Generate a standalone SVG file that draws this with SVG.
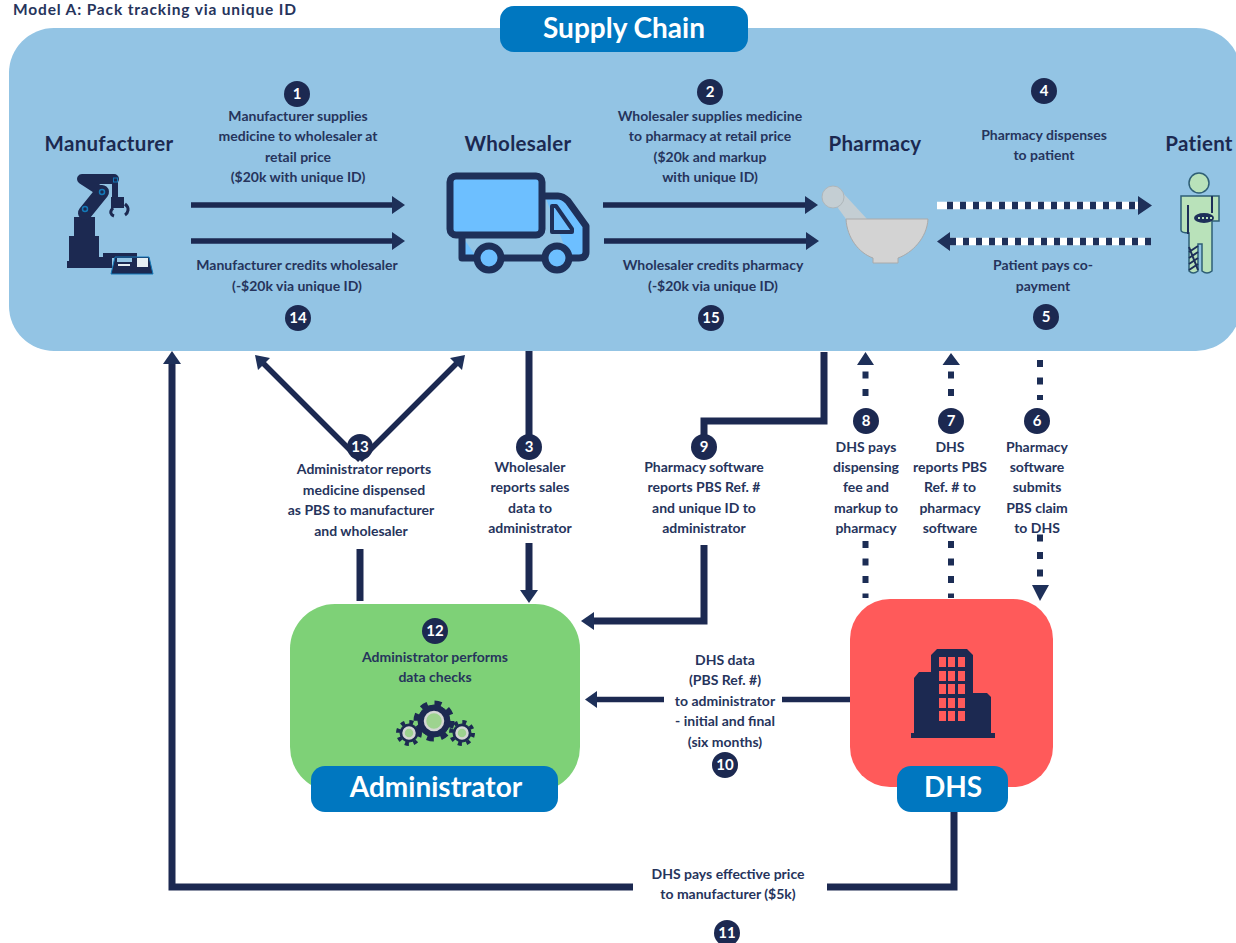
<svg xmlns="http://www.w3.org/2000/svg" width="1236" height="943" viewBox="0 0 1236 943">
<style>
text{font-family:"Lato","Open Sans","Liberation Sans",sans-serif;font-weight:700;text-anchor:middle;fill:#26345c}
.b{font-size:14px}
.h{font-size:20.500px;fill:#1c2951;letter-spacing:.3px}
.t{font-size:28px;fill:#fff}
.n{font-size:15px;fill:#fff}
.c{fill:#1c2951}
.l{fill:none;stroke:#1c2951;stroke-width:5.500}
.w{fill:none;stroke:#1c2951;stroke-width:7}
.d{fill:none;stroke:#1c2d55;stroke-width:6;stroke-dasharray:7 10.500}
.f{fill:#1e3059}
.lab{fill:#0077c0}
</style>
<defs>
<g id="num"><circle r="13" class="c"/></g>
</defs>
<rect width="1236" height="943" fill="#fff"/>
<text x="13" y="15" style="text-anchor:start;font-size:15.500px;letter-spacing:.85px">Model A: Pack tracking via unique ID</text>
<g id="supply-chain">
<rect x="9" y="28" width="1232" height="323" rx="45" fill="#93c4e4"/>
<rect x="500" y="6" width="248" height="46" rx="14" class="lab"/>
<text x="624" y="38" class="t">Supply Chain</text>
</g>
<g id="connectors">
<path class="l" d="M191 205H394M191 241H394M603 205H807M604 241H808"/>
<path class="f" d="M392 196L405 205L392 214ZM392 232L405 241L392 250ZM805 196L818 205L805 214ZM806 232L819 241L806 250Z"/>
<path d="M937 205.500H1141M947 241.500H1151" fill="none" stroke="#fff" stroke-width="7.500"/>
<path d="M947 205.500H1141M1151 241.500H947" fill="none" stroke="#1e3059" stroke-width="7.500" stroke-dasharray="6 7"/>
<path class="f" d="M1138 196L1152 205.500L1138 215ZM950 232L937 241.500L950 251Z"/>
<path class="w" d="M529 351V447M529 543V592"/>
<path class="f" d="M520 590H538L529 603Z"/>
<path class="l" d="M360 460L262 362M360 460L458 362"/>
<path class="f" d="M255 355L270 358L258 370ZM465 355L450 358L462 370Z"/>
<path class="w" d="M360 549V601"/>
<path class="w" d="M824 352V421H704V447"/>
<path class="w" d="M704 545V621H592"/>
<path class="f" d="M594 612L581 621L594 630Z"/>
<path class="d" d="M865.500 396V362"/>
<path class="d" d="M951 396V362"/>
<path class="f" d="M857 365H874L865.500 352ZM942.500 365H960L951 353Z"/>
<path class="d" d="M865.500 541V598M951 541V598"/>
<path class="d" d="M1040 360V400"/>
<path class="d" d="M1040 534.500V585"/>
<path class="f" d="M1032 585H1049L1040 601Z"/>
<path class="l" d="M850 699.500H782M664 699.500H595"/>
<path class="f" d="M597 691L585 699.500L597 708Z"/>
<path class="w" d="M954 812V887H827M633 887H172V362"/>
<path class="f" d="M163 364H181L172 351Z"/>
</g>
<g id="manufacturer">
<text x="109" y="151" class="h">Manufacturer</text>
<path class="c" d="M67 268V261H69V236H74V217H95V236H99V257H103V253H137V258H112V268Z"/>
<path fill="none" stroke="#1c2951" stroke-width="14" stroke-linecap="round" d="M85 213L102 192"/>
<path fill="none" stroke="#1c2951" stroke-width="10" stroke-linecap="round" stroke-linejoin="round" d="M102 192L82 179H114"/>
<path fill="none" stroke="#1c2951" stroke-width="6" d="M115 177V198"/>
<path fill="none" stroke="#1c2951" stroke-width="3" d="M113 208C109 212 111 215 114 216M125 204C130 208 128 213 125 215"/>
<rect x="111" y="197" width="13" height="11" class="c"/>
<circle cx="85" cy="209" r="2.500" fill="none" stroke="#1479b8" stroke-width="1.500"/>
<circle cx="102" cy="192" r="2.500" fill="none" stroke="#1479b8" stroke-width="1.500"/>
<rect x="113.500" y="178" width="4" height="4" fill="none" stroke="#1479b8"/>
<path d="M111 274L115 257H149L153 274Z" fill="#1c2951" stroke="#1479b8"/>
<rect x="137" y="258" width="11" height="9" fill="#e6eef2"/>
<rect x="117" y="258" width="15" height="4" fill="#93c4e4"/>
<rect x="118" y="264" width="12" height="2" fill="#e6eef2"/>
</g>
<g id="wholesaler">
<text x="518" y="151" class="h">Wholesaler</text>
<path d="M462 236V258H477M501 258H545M569 258H579Q586 258 586 252V226L568 201Q563 196 558 196H545" fill="#6dbfff" stroke="#1e3059" stroke-width="7" stroke-linejoin="round"/>
<rect x="450" y="176" width="92" height="59" rx="6" fill="#6dbfff" stroke="#1e3059" stroke-width="7"/>
<path d="M552 206H556L572 229V232H552Z" fill="#6dbfff" stroke="#1e3059" stroke-width="4" stroke-linejoin="round"/>
<circle cx="489" cy="258" r="12" fill="#6dbfff" stroke="#1e3059" stroke-width="7"/>
<circle cx="557" cy="258" r="12" fill="#6dbfff" stroke="#1e3059" stroke-width="7"/>
</g>
<g id="pharmacy">
<text x="875" y="151" class="h">Pharmacy</text>
<path d="M838 208L843 193L867 219H846Z" fill="#c4ced3"/>
<circle cx="833" cy="197" r="11" fill="#c4ced3" stroke="#aeb6ba"/>
<path d="M846 219H928C927 238 912 253 898 258V263H873V258C859 253 847 238 846 219Z" fill="#d3d3d3" stroke="#aaa"/>
</g>
<g id="patient">
<text x="1199" y="151" class="h">Patient</text>
<circle cx="1199" cy="183" r="10" fill="#b9e2ba" stroke="#2f5f75" stroke-width="1.500"/>
<path d="M1181 196H1219V221H1212V241V271Q1207 275 1202 271V244H1198V271Q1193 275 1189 271V233Q1181 233 1181 230Z" fill="#b9e2ba" stroke="#2f5f75" stroke-width="1.500"/>
<path d="M1188 205V234M1212 196V213" fill="none" stroke="#1e3059" stroke-width="2"/>
<ellipse cx="1204" cy="218" rx="10" ry="5" fill="#1e3059"/>
<path d="M1198 218h2M1202 218h2M1206 218h2M1210 218h2" stroke="#b9e2ba" stroke-width="2" fill="none"/>
<path d="M1189 252L1198 246M1189 258L1198 252M1189 264L1198 258M1189 270L1198 264M1189 247L1198 270" stroke="#1e3059" stroke-width="2" fill="none"/>
</g>
<g id="administrator">
<rect x="290" y="604" width="290" height="188" rx="45" fill="#7ed177"/>
<text x="435" y="662" class="b">Administrator performs</text>
<text x="435" y="682" class="b">data checks</text>
<g fill="#1c2951" stroke="#1c2951">
<circle cx="434" cy="721" r="16"/><circle cx="434" cy="721" r="18" fill="none" stroke-width="5" stroke-dasharray="7 7.130"/>
<circle cx="409" cy="733" r="9"/><circle cx="409" cy="733" r="11" fill="none" stroke-width="4" stroke-dasharray="4 4.640"/>
<circle cx="462" cy="733" r="9"/><circle cx="462" cy="733" r="11" fill="none" stroke-width="4" stroke-dasharray="4 4.640"/>
</g>
<g fill="#9dd38f" stroke="#d3d7d3" stroke-width="2.500">
<circle cx="434" cy="721" r="9"/><circle cx="409" cy="733" r="5.500"/><circle cx="462" cy="733" r="5.500"/>
</g>
<rect x="311" y="766" width="247" height="46" rx="14" class="lab"/>
<text x="436" y="797" class="t">Administrator</text>
</g>
<g id="dhs">
<rect x="850" y="599" width="203" height="188" rx="40" fill="#ff5a5a"/>
<path class="c" d="M931 733V655L937 649H967L973 655V693H987L991 697V733H995V738H911V733H914V678L919 672H931Z"/>
<g fill="#ff5a5a"><rect x="939" y="657" width="7" height="10"/><rect x="948" y="657" width="7" height="10"/><rect x="958" y="657" width="7" height="10"/><rect x="939" y="671" width="7" height="10"/><rect x="948" y="671" width="7" height="10"/><rect x="958" y="671" width="7" height="10"/><rect x="939" y="684" width="7" height="10"/><rect x="948" y="684" width="7" height="10"/><rect x="958" y="684" width="7" height="10"/><rect x="939" y="698" width="7" height="10"/><rect x="948" y="698" width="7" height="10"/><rect x="958" y="698" width="7" height="10"/><rect x="939" y="711" width="7" height="10"/><rect x="948" y="711" width="7" height="10"/><rect x="958" y="711" width="7" height="10"/></g>
<rect x="897" y="766" width="111" height="46" rx="14" class="lab"/>
<text x="953" y="797" class="t">DHS</text>
</g>
<g id="labels">
<text x="298" y="121" class="b">Manufacturer supplies</text><text x="298" y="141" class="b">medicine to wholesaler at</text><text x="298" y="162" class="b">retail price</text><text x="298" y="182" class="b">($20k with unique ID)</text>
<text x="297" y="270" class="b">Manufacturer credits wholesaler</text><text x="297" y="291" class="b">(-$20k via unique ID)</text>
<text x="710" y="121" class="b">Wholesaler supplies medicine</text><text x="710" y="141" class="b">to pharmacy at retail price</text><text x="710" y="162" class="b">($20k and markup</text><text x="710" y="182" class="b">with unique ID)</text>
<text x="713" y="270" class="b">Wholesaler credits pharmacy</text><text x="713" y="291" class="b">(-$20k via unique ID)</text>
<text x="1044" y="140" class="b">Pharmacy dispenses</text><text x="1044" y="160" class="b">to patient</text>
<text x="1043" y="270" class="b">Patient pays co-</text><text x="1043" y="291" class="b">payment</text>
<text x="364" y="474" class="b">Administrator reports</text><text x="364" y="495" class="b">medicine dispensed</text><text x="361" y="515" class="b">as PBS to manufacturer</text><text x="361" y="536" class="b">and wholesaler</text>
<text x="530" y="472" class="b">Wholesaler</text><text x="530" y="492" class="b">reports sales</text><text x="530" y="513" class="b">data to</text><text x="530" y="533" class="b">administrator</text>
<text x="704" y="472" class="b">Pharmacy software</text><text x="704" y="492" class="b">reports PBS Ref. #</text><text x="704" y="513" class="b">and unique ID to</text><text x="704" y="533" class="b">administrator</text>
<text x="866" y="452" class="b">DHS pays</text><text x="866" y="472" class="b">dispensing</text><text x="866" y="492" class="b">fee and</text><text x="866" y="513" class="b">markup to</text><text x="866" y="533" class="b">pharmacy</text>
<text x="950" y="452" class="b">DHS</text><text x="950" y="472" class="b">reports PBS</text><text x="950" y="492" class="b">Ref. # to</text><text x="950" y="513" class="b">pharmacy</text><text x="950" y="533" class="b">software</text>
<text x="1037" y="452" class="b">Pharmacy</text><text x="1037" y="472" class="b">software</text><text x="1037" y="492" class="b">submits</text><text x="1037" y="513" class="b">PBS claim</text><text x="1037" y="533" class="b">to DHS</text>
<text x="725" y="665" class="b">DHS data</text><text x="725" y="685" class="b">(PBS Ref. #)</text><text x="725" y="706" class="b">to administrator</text><text x="725" y="726" class="b">- initial and final</text><text x="725" y="747" class="b">(six months)</text>
<text x="728" y="879" class="b">DHS pays effective price</text><text x="728" y="899" class="b">to manufacturer ($5k)</text>
</g>
<g id="numbers">
<g id="n1" transform="translate(297 94)"><use href="#num"/><text y="5" class="n">1</text></g>
<g id="n2" transform="translate(710 92)"><use href="#num"/><text y="5" class="n">2</text></g>
<g id="n3" transform="translate(529 447)"><use href="#num"/><text y="5" class="n">3</text></g>
<g id="n4" transform="translate(1044 91)"><use href="#num"/><text y="5" class="n">4</text></g>
<g id="n5" transform="translate(1046 317)"><use href="#num"/><text y="5" class="n">5</text></g>
<g id="n6" transform="translate(1037 421)"><use href="#num"/><text y="5" class="n">6</text></g>
<g id="n7" transform="translate(951 421)"><use href="#num"/><text y="5" class="n">7</text></g>
<g id="n8" transform="translate(866 421)"><use href="#num"/><text y="5" class="n">8</text></g>
<g id="n9" transform="translate(704 447)"><use href="#num"/><text y="5" class="n">9</text></g>
<g id="n10" transform="translate(725 765)"><use href="#num"/><text y="5" class="n">10</text></g>
<g id="n11" transform="translate(727 933)"><use href="#num"/><text y="5" class="n">11</text></g>
<g id="n12" transform="translate(435 631)"><use href="#num"/><text y="5" class="n">12</text></g>
<g id="n13" transform="translate(360 447)"><use href="#num"/><text y="5" class="n">13</text></g>
<g id="n14" transform="translate(298 318)"><use href="#num"/><text y="5" class="n">14</text></g>
<g id="n15" transform="translate(711 318)"><use href="#num"/><text y="5" class="n">15</text></g>
</g>
</svg>
